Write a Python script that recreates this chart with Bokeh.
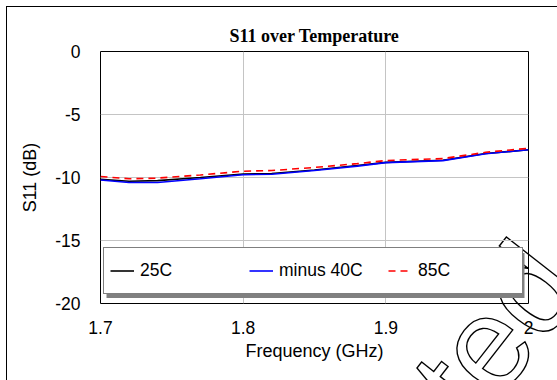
from urllib.parse import quote
from bokeh.plotting import figure
from bokeh.models import FixedTicker, Legend, LegendItem, BoxAnnotation
from bokeh.embed import file_html
from bokeh.resources import INLINE

# ---- data ----
freq_ghz = [1.70, 1.72, 1.74, 1.77, 1.80, 1.82, 1.85, 1.88, 1.90, 1.94, 1.97, 2.00]
s11_25c = [-10.15, -10.30, -10.25, -10.00, -9.72, -9.68, -9.40, -9.05, -8.80, -8.63, -8.10, -7.80]
s11_m40c = [-10.20, -10.40, -10.40, -10.10, -9.78, -9.74, -9.45, -9.10, -8.82, -8.66, -8.12, -7.80]
s11_85c = [-9.92, -10.10, -10.05, -9.80, -9.50, -9.45, -9.20, -8.90, -8.65, -8.50, -8.00, -7.68]
x_ticks = [1.7, 1.8, 1.9, 2.0]
x_tick_labels = ["1.7", "1.8", "1.9", "2"]
y_ticks = [-20, -15, -10, -5, 0]
y_tick_labels = ["-20", "-15", "-10", "-5", "0"]
series_names = ["25C", "minus 40C", "85C"]
watermark_text = "Obsoleted"

FONT = "Liberation Sans"

# frame geometry (pixels)
W, H = 557, 380
FL, FR, FT, FB = 100, 528, 51, 303
X0, X1, Y0, Y1 = 1.7, 2.0, -20, 0
px_per_x = (FR - FL) / (X1 - X0)
px_per_y = (FB - FT) / (Y1 - Y0)


def dx(px):
    return X0 + (px - FL) / px_per_x


def dy(py):
    return Y1 - (py - FT) / px_per_y


p = figure(width=W, height=H, x_range=(X0, X1), y_range=(Y0, Y1),
           output_backend="svg", toolbar_location=None,
           min_border_left=FL, min_border_right=W - FR,
           min_border_top=FT, min_border_bottom=H - FB,
           title="S11 over Temperature")

p.title.align = "center"
p.title.text_font = "Liberation Serif"
p.title.text_font_size = "18px"
p.title.text_font_style = "bold"
p.title.text_color = "black"
p.title.standoff = 12

p.outline_line_color = "black"
p.outline_line_width = 1

# page-level decoration: outer chart border + hollow watermark, drawn behind a
# transparent canvas
wm_svg = ("<svg xmlns='http://www.w3.org/2000/svg' width='%d' height='%d'>"
          "<text x='586' y='288' transform='rotate(-52 586 288)' text-anchor='end' "
          "font-family='Liberation Sans, Arial, sans-serif' font-size='130' "
          "fill='none' stroke='black' stroke-width='1.4'>%s</text></svg>"
          % (W, H, watermark_text))
p.background_fill_color = None
p.border_fill_color = None
p.styles = {
    "background-color": "white",
    "background-image": ('url("data:image/svg+xml,%s"), '
                         "linear-gradient(#000, #000), linear-gradient(#000, #000)")
                        % quote(wm_svg),
    "background-size": "%dpx %dpx, 1px 100%%, 100%% 1px" % (W, H),
    "background-position": "0 0, 6px 6px, 6px 6px",
    "background-repeat": "no-repeat",
}

for ax in (p.xaxis, p.yaxis):
    ax.axis_line_color = None
    ax.major_tick_line_color = None
    ax.minor_tick_line_color = None
    ax.major_tick_out = 0
    ax.major_tick_in = 0
    ax.major_label_text_font = FONT
    ax.major_label_text_font_size = "17.5px"
    ax.major_label_text_color = "black"
    ax.axis_label_text_font = FONT
    ax.axis_label_text_font_size = "18px"
    ax.axis_label_text_font_style = "normal"
    ax.axis_label_text_color = "black"

p.xaxis.ticker = FixedTicker(ticks=x_ticks)
p.xaxis.major_label_overrides = {t: l for t, l in zip(x_ticks, x_tick_labels)}
p.yaxis.ticker = FixedTicker(ticks=y_ticks)
p.yaxis.major_label_overrides = {t: l for t, l in zip(y_ticks, y_tick_labels)}
p.xaxis.axis_label = "Frequency (GHz)"
p.yaxis.axis_label = "S11 (dB)"
p.xaxis.major_label_standoff = 17
p.yaxis.major_label_standoff = 20
p.xaxis.axis_label_standoff = 4
p.yaxis.axis_label_standoff = 12

p.xgrid.ticker = FixedTicker(ticks=x_ticks)
p.ygrid.ticker = FixedTicker(ticks=y_ticks)
p.grid.grid_line_color = "#c4c4c4"
p.grid.grid_line_width = 1

r1 = p.line(freq_ghz, s11_25c, line_color="black", line_width=1.6)
r2 = p.line(freq_ghz, s11_m40c, line_color="blue", line_width=1.6)
r3 = p.line(freq_ghz, s11_85c, line_color="red", line_width=1.6, line_dash="7 5")

# legend drop shadow
shadow = BoxAnnotation(left=dx(106), right=dx(524), top=dy(252.5), bottom=dy(297.5),
                       fill_color="#808080", fill_alpha=1, line_color=None)
p.add_layout(shadow)

legend = Legend(items=[LegendItem(label=series_names[0], renderers=[r1]),
                       LegendItem(label=series_names[1], renderers=[r2]),
                       LegendItem(label=series_names[2], renderers=[r3])],
                orientation="horizontal", location=(3, 9),
                glyph_width=24, glyph_height=33, label_height=33,
                label_width=98, label_standoff=6, spacing=11, padding=6, margin=0,
                border_line_color="black", border_line_width=1,
                background_fill_color="white", background_fill_alpha=1,
                label_text_font=FONT, label_text_font_size="17.5px",
                label_text_color="black")
p.add_layout(legend)

open("out.html", "w").write(file_html(p, INLINE))
